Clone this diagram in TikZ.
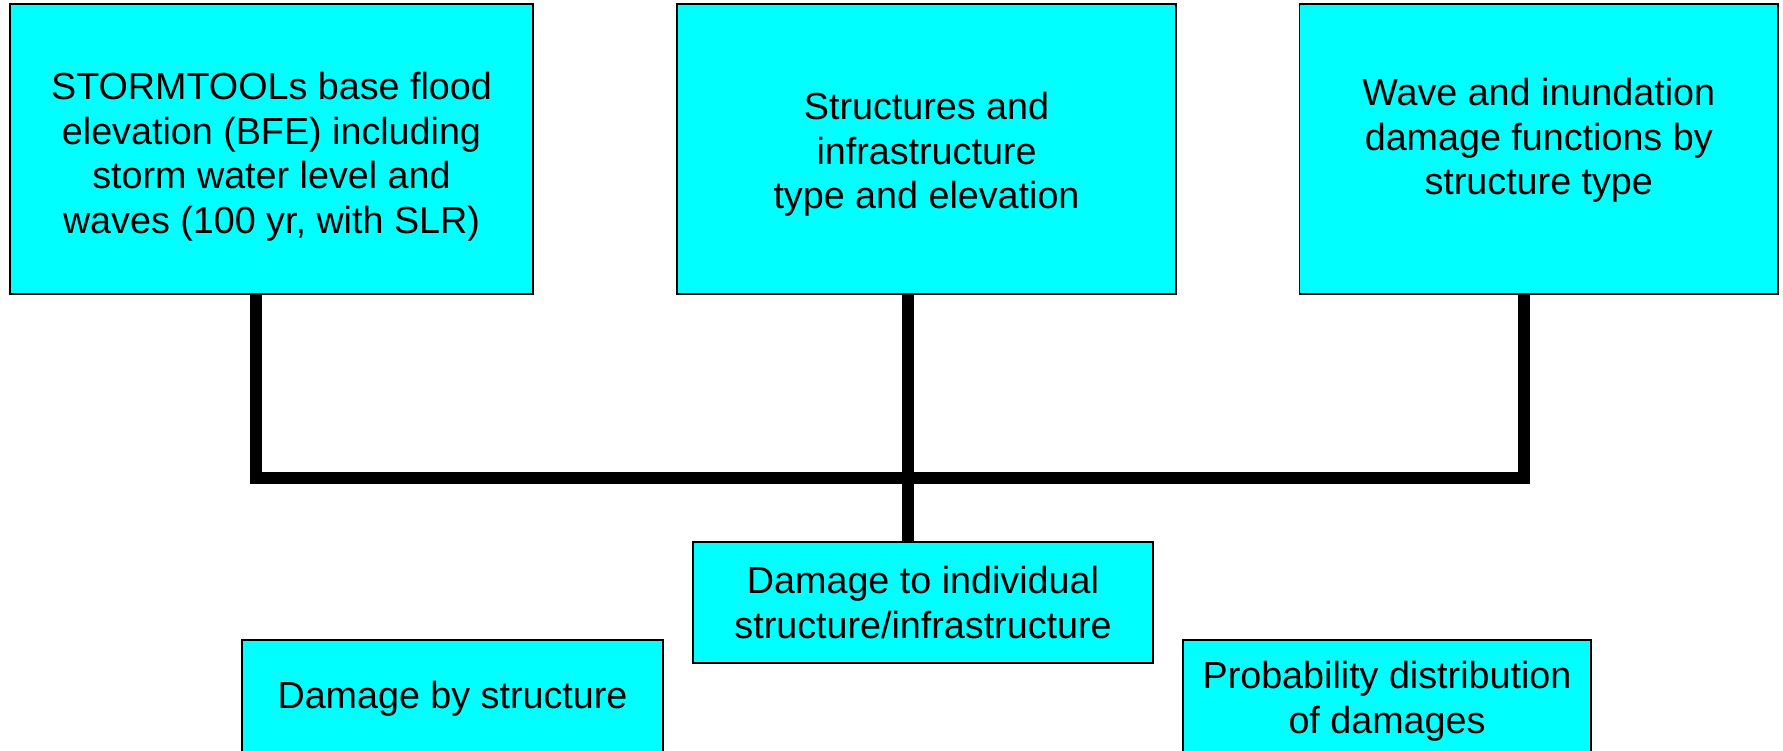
\documentclass[tikz,border=0pt]{standalone}
\usepackage{fontspec}
\setmainfont{Liberation Sans}
\definecolor{aqua}{RGB}{0,255,255}
\begin{document}
\begin{tikzpicture}[x=1pt,y=-1pt,
  box/.style={draw=black, line width=1.5pt, fill=aqua, inner sep=0pt, align=center,
              font=\fontsize{37.7}{44.7}\selectfont},
  link/.style={line width=12pt, line join=miter, line cap=butt}]
\useasboundingbox (0,0) rectangle (1783,751);
\clip (0,0) rectangle (1783,751);
% top row
\node[box, minimum width=523pt, minimum height=290pt] (bfe) at (271.5,149)
  {\rule{0pt}{42.8pt}STORMTOOLs base flood\\elevation (BFE) including\\storm water level and\\waves (100 yr, with SLR)};
\node[box, minimum width=499pt, minimum height=290pt] (str) at (926.5,149)
  {\rule{0pt}{38.3pt}Structures and\\infrastructure\\type and elevation};
\node[box, minimum width=478.5pt, minimum height=290pt] (wave) at (1538.75,149)
  {Wave and inundation\\damage functions by\\structure type\rule[-25pt]{0pt}{25pt}};
% middle and bottom
\node[box, minimum width=460pt, minimum height=121pt] (dmg) at (923,602.5)
  {Damage to individual\\structure/infrastructure};
\node[box, minimum width=421pt, minimum height=117pt] (bystr) at (452.5,698.5)
  {Damage by structure};
\node[box, minimum width=408pt, minimum height=123pt] (prob) at (1387,701.5)
  {Probability distribution\\of damages};
% connectors
\coordinate (jl) at (256,478);
\coordinate (jr) at (1524,478);
\coordinate (jc) at (908,478);
\draw[link] (bfe.south -| jl) -- (jl) -- (jr) -- (wave.south -| jr);
\draw[link] (str.south -| jc) -- (dmg.north -| jc);
\end{tikzpicture}
\end{document}
